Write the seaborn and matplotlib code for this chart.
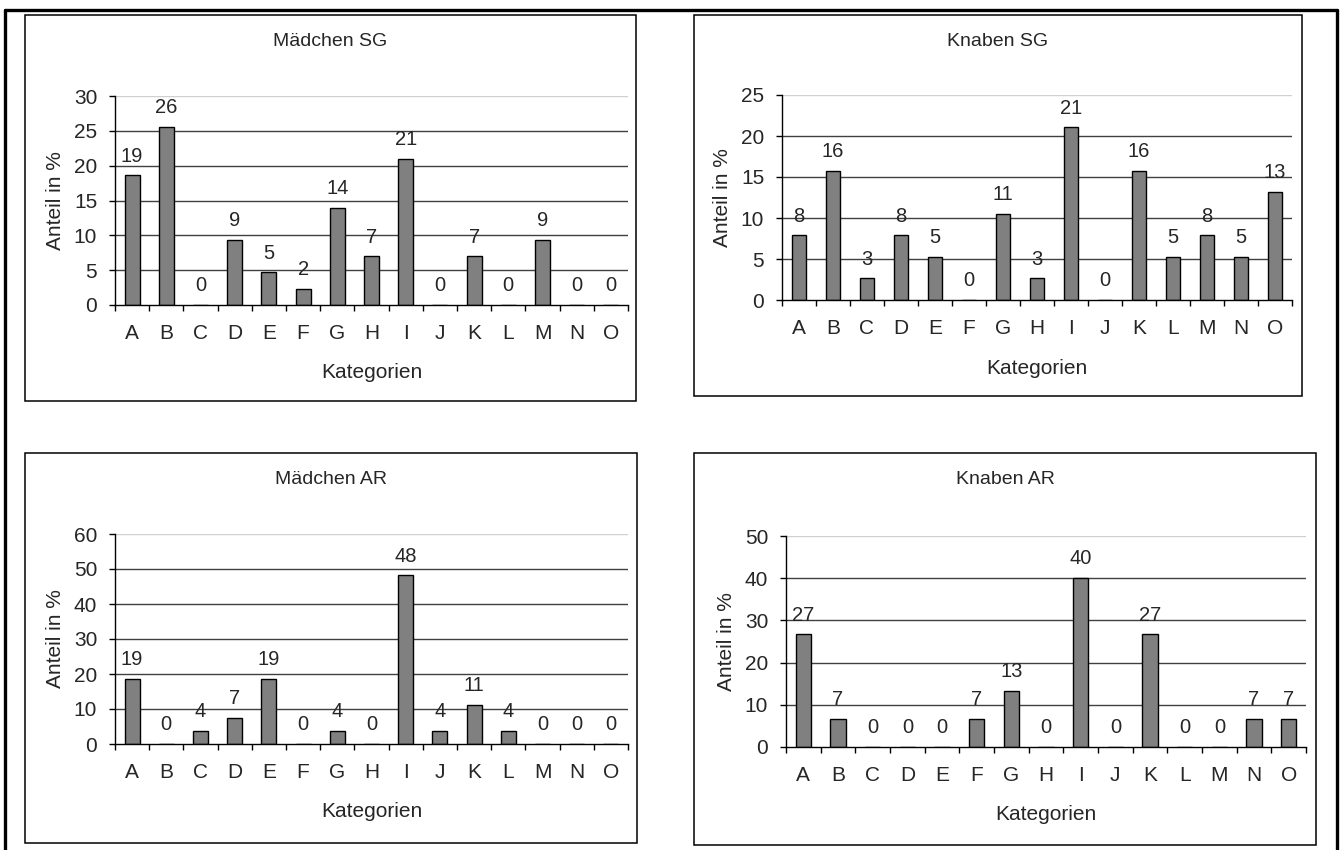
import numpy as np
import pandas as pd
import matplotlib
matplotlib.use("Agg")
import matplotlib.pyplot as plt
from matplotlib.patches import Rectangle
from matplotlib.lines import Line2D
import seaborn as sns

# data (percent per category)
categories = list("ABCDEFGHIJKLMNO")
maedchen_sg = [18.60, 25.58, 0, 9.30, 4.70, 2.33, 13.95, 6.98, 20.93, 0, 6.98, 0, 9.30, 0, 0]
knaben_sg = [7.89, 15.79, 2.63, 7.89, 5.26, 0, 10.53, 2.63, 21.05, 0, 15.79, 5.26, 7.89, 5.26, 13.16]
maedchen_ar = [18.52, 0, 3.70, 7.41, 18.52, 0, 3.70, 0, 48.15, 3.70, 11.11, 3.70, 0, 0, 0]
knaben_ar = [26.67, 6.67, 0, 0, 0, 6.67, 13.33, 0, 40.00, 0, 26.67, 0, 0, 6.67, 6.67]

titles = ["Mädchen SG", "Knaben SG", "Mädchen AR", "Knaben AR"]
series = [maedchen_sg, knaben_sg, maedchen_ar, knaben_ar]
y_max = [30, 25, 60, 50]
y_step = [5, 5, 10, 10]

sns.set_style("white")
plt.rcParams["font.family"] = ["Liberation Sans", "DejaVu Sans"]

W, H = 1342, 850
fig = plt.figure(figsize=(W / 100, H / 100), dpi=100)


def fx(x):
    return x / W


def fy(y):
    return 1 - y / H


# pixel layout: outer box (l, t, r, b) and plot area (l, t, r, b)
boxes = [(25, 15, 636, 401), (694, 15, 1302, 396), (25, 453, 637, 843), (694, 453, 1316, 845)]
areas = [(115, 96, 628, 305), (782, 95, 1292, 300), (115, 534, 628, 744), (786, 536, 1306, 747)]
title_y = [42, 42, 480, 480]

# outer frame
for xs, ys in [([5, 5], [10, 850]), ([5, 1337], [10, 10]), ([1337, 1337], [10, 850])]:
    fig.add_artist(Line2D([fx(x) for x in xs], [fy(y) for y in ys], color="black", lw=2.4,
                          transform=fig.transFigure))

for i in range(4):
    bl, bt, br, bb = boxes[i]
    fig.add_artist(Rectangle((fx(bl), fy(bb)), fx(br) - fx(bl), fy(bt) - fy(bb), fill=False,
                             ec="black", lw=1.1, transform=fig.transFigure))
    fig.text(fx((bl + br) / 2), fy(title_y[i]), titles[i], ha="center", va="center", fontsize=14)

    al, at, ar, ab = areas[i]
    ax = fig.add_axes([fx(al), fy(ab), fx(ar) - fx(al), fy(at) - fy(ab)])
    df = pd.DataFrame({"Kategorie": categories, "Anteil": series[i]})
    sns.barplot(data=df, x="Kategorie", y="Anteil", color="#808080", saturation=1,
                edgecolor="black", linewidth=1, width=0.44, ax=ax, zorder=2)

    ax.set_xlim(-0.5, len(categories) - 0.5)
    ax.set_ylim(0, y_max[i])
    ticks = np.arange(0, y_max[i] + 1, y_step[i])
    ax.set_yticks(ticks)
    for t in ticks[1:-1]:
        ax.axhline(t, color="#404040", lw=1, zorder=1)
    ax.axhline(y_max[i], color="#d0d0d0", lw=1, zorder=1)

    ax.set_xticks(range(len(categories)))
    ax.set_xticklabels(categories)
    ax.set_xticks(np.arange(-0.5, len(categories), 1), minor=True)
    ax.tick_params(axis="x", which="major", length=0, pad=14, labelsize=15)
    ax.tick_params(axis="x", which="minor", length=4.3, width=1, color="black", direction="out")
    ax.tick_params(axis="y", length=4.3, width=1, color="black", direction="out", pad=8.5, labelsize=15)
    ax.tick_params(bottom=True, left=True, which="both")

    for side in ["top", "right"]:
        ax.spines[side].set_visible(False)
    for side in ["left", "bottom"]:
        ax.spines[side].set_color("black")
        ax.spines[side].set_linewidth(1)

    ax.bar_label(ax.containers[0], labels=[f"{v:.0f}" for v in series[i]], padding=7, fontsize=14.5)

    axh = ab - at
    ax.set_xlabel("Kategorien", fontsize=15)
    ax.xaxis.set_label_coords(0.5, -68 / axh)
    ax.xaxis.label.set_va("center")
    ax.set_ylabel("Anteil in %", fontsize=15)
    ax.yaxis.set_label_coords(-60 / (ar - al), 0.5)
    ax.yaxis.label.set_va("center")
    ax.set_facecolor("none")

fig.savefig("out.png", dpi=100, facecolor="white")
